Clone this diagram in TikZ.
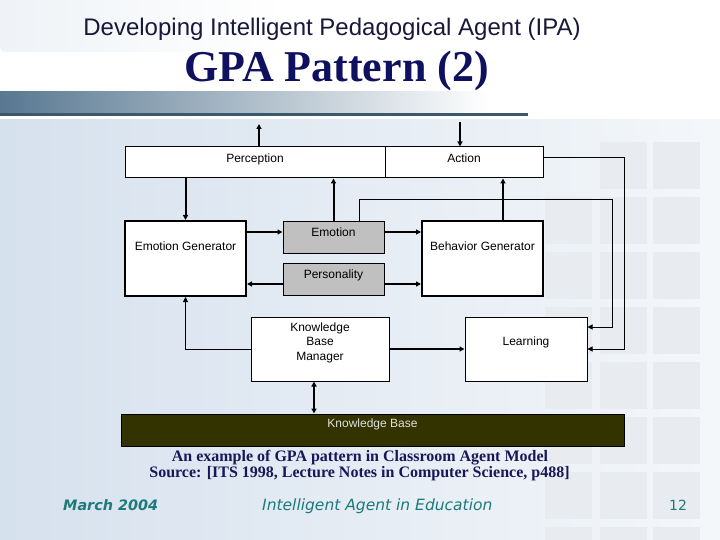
\documentclass[tikz,border=0pt]{standalone}
\usepackage{fontspec}
\setmainfont{Liberation Sans}
\newfontfamily\serifttl{Liberation Serif}
\newfontfamily\footfont{DejaVu Sans}
\usetikzlibrary{arrows.meta}

\definecolor{titlenavy}{RGB}{16,16,96}
\definecolor{subnavy}{RGB}{24,24,56}
\definecolor{capnavy}{RGB}{24,24,88}
\definecolor{footteal}{RGB}{30,122,122}
\definecolor{kbolive}{RGB}{51,51,0}
\definecolor{boxgray}{RGB}{192,192,192}
\definecolor{bgblue}{RGB}{214,225,238}
\definecolor{bgpale}{RGB}{244,247,250}
\definecolor{sqgray}{RGB}{232,236,241}
\definecolor{bandgray}{RGB}{218,227,236}
\definecolor{bandblue}{RGB}{88,128,178}
\definecolor{barblue}{RGB}{88,120,145}
\definecolor{barline}{RGB}{60,88,108}

\pgfdeclarehorizontalshading{topband}{100bp}{color(0bp)=(bandgray); color(45bp)=(white); color(80bp)=(white); color(100bp)=(bandblue)}

\begin{document}
\begin{tikzpicture}[x=1pt,y=-1pt,
    every node/.style={font=\fontsize{12}{14.5}\selectfont},
    blk/.style={draw,line width=1pt,fill=white,inner sep=0pt,text height=8.6pt,text depth=#1},
    gen/.style={blk=#1,line width=2pt},
    mood/.style={blk=#1,fill=boxgray},
    arr/.style={line width=2pt,-{Triangle[length=5pt,width=5pt]}},
    feed/.style={line width=1pt,-{Triangle[length=5pt,width=5pt]}}]
    \useasboundingbox (0,0) rectangle (720,540);
    % background
    \fill[white] (0,0) rectangle (720,540);
    \shade[left color=bgblue, right color=bgpale] (0,120) rectangle (720,540);
    \foreach \x in {600,653} \foreach \y in {142,197,...,527} \fill[sqgray] (\x,\y) rectangle +(47,47);
    \foreach \y in {197,252,...,527} \fill[sqgray] (545,\y) rectangle +(47,47);
    \shade[shading=topband] (0,0) -- (712,0) -- (704,40) .. controls (702,50) .. (692,52) -- (14,52) .. controls (0,52) .. (0,40) -- cycle;
    \shade[left color=barblue, right color=white] (0,92) rectangle (490,113);
    \fill[barline] (0,113) rectangle (528,116);
    % titles
    \node[font=\fontsize{24}{28}\selectfont, text=subnavy, anchor=base] (sub) at (332,36) {Developing Intelligent Pedagogical Agent (IPA)};
    \node[font=\serifttl\bfseries\fontsize{44}{50}\selectfont, text=titlenavy, anchor=base] (ttl) at (336.5,82) {GPA Pattern (2)};
    % blocks
    \node[blk=9pt, minimum width=260pt, minimum height=31pt] (perc) at (255,162.5) {Perception};
    \node[blk=9pt, minimum width=158pt, minimum height=31pt] (act) at (464,162.5) {Action};
    \node[gen=25pt, minimum width=121pt, minimum height=75pt] (emogen) at (185.5,258.5) {Emotion Generator};
    \node[mood=11pt, minimum width=101pt, minimum height=31pt] (emo) at (333.5,237.5) {Emotion};
    \node[mood=10pt, minimum width=101pt, minimum height=32pt] (pers) at (333.5,279) {Personality};
    \node[gen=25pt, minimum width=121pt, minimum height=75pt] (behgen) at (482.5,258.5) {Behavior Generator};
    \node[blk=15pt, text height=37.6pt, align=center, minimum width=138pt, minimum height=64pt] (kbm) at (320,349) {Knowledge\\Base\\Manager};
    \node[blk=16pt, minimum width=122pt, minimum height=64pt] (learn) at (526,349) {Learning};
    \node[blk=14pt, fill=kbolive, text=white!88!black, minimum width=503pt, minimum height=32pt] (kb) at (372.5,430) {Knowledge Base};
    % connectors
    \coordinate (pout) at (259,124);
    \coordinate (ain) at (460,122);
    \coordinate (r1) at (0,232);
    \coordinate (r2) at (0,284);
    \coordinate (c1) at (503,0);
    \coordinate (c2) at (314,0);
    \draw[arr] (perc.north -| pout) -- (pout);
    \draw[arr] (ain) -- (ain |- act.north);
    \draw[arr] (perc.south -| emogen.north) -- (emogen.north);
    \draw[arr] (emo.north) -- (emo.north |- perc.south);
    \draw[arr] (emogen.east |- r1) -- (emo.west |- r1);
    \draw[arr] (emo.east |- r1) -- (behgen.west |- r1);
    \draw[arr] (pers.west |- r2) -- (emogen.east |- r2);
    \draw[arr] (pers.east |- r2) -- (behgen.west |- r2);
    \draw[arr] (behgen.north -| c1) -- (c1 |- act.south);
    \draw[feed] ([xshift=25.5pt]emo.north) |- (612,200) |- ([yshift=22pt]learn.east);
    \draw[feed] ([yshift=4.5pt]act.east) -| (624,349) -- (learn.east);
    \draw[feed] (kbm.west) -| (emogen.south);
    \draw[arr] (kbm.east) -- (learn.west);
    \draw[arr, {Triangle[length=5pt,width=5pt]}-{Triangle[length=5pt,width=5pt]}] (kbm.south -| c2) -- (kb.north -| c2);
    % caption and footer
    \node[font=\serifttl\bfseries\fontsize{16}{18}\selectfont, text=capnavy, anchor=base] (cap1) at (360,461) {An example of GPA pattern in Classroom Agent Model};
    \node[font=\serifttl\bfseries\fontsize{16}{18}\selectfont, text=capnavy, anchor=base] (cap2) at (359.5,477) {Source: [ITS 1998, Lecture Notes in Computer Science, p488]};
    \node[font=\footfont\bfseries\itshape\fontsize{14.4}{16}\selectfont, text=footteal, anchor=base west, inner sep=0pt] (date) at (63,510) {March 2004};
    \node[font=\footfont\itshape\fontsize{15.5}{18}\selectfont, text=footteal, anchor=base west, inner sep=0pt] (topic) at (262,510) {Intelligent Agent in Education};
    \node[font=\footfont\fontsize{14}{16}\selectfont, text=footteal, anchor=base] (page) at (678,510) {12};
\end{tikzpicture}
\end{document}
